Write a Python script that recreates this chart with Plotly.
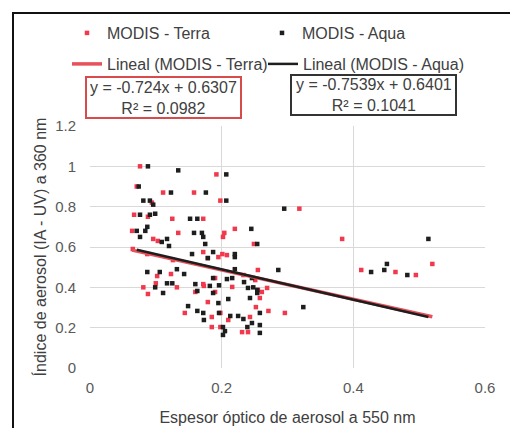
import numpy as np
import plotly.graph_objects as go

# ---- data ----
terra_x = [0.076, 0.192, 0.071, 0.111, 0.158, 0.094, 0.198, 0.318, 0.067, 0.088,
           0.125, 0.172, 0.220, 0.064, 0.134, 0.204, 0.202, 0.096, 0.103, 0.249,
           0.383, 0.065, 0.087, 0.172, 0.195, 0.208, 0.201, 0.126, 0.123, 0.102,
           0.255, 0.190, 0.233, 0.251, 0.081, 0.100, 0.132, 0.088, 0.172, 0.160,
           0.173, 0.190, 0.216, 0.255, 0.269, 0.258, 0.179, 0.252, 0.271, 0.296,
           0.144, 0.185, 0.198, 0.210, 0.243, 0.185, 0.198, 0.231, 0.240, 0.412,
           0.464, 0.495, 0.520, 0.179, 0.261]
terra_y = [1.000, 0.960, 0.900, 0.870, 0.870, 0.820, 0.830, 0.790, 0.760, 0.750,
           0.740, 0.740, 0.690, 0.680, 0.670, 0.670, 0.650, 0.640, 0.630, 0.615,
           0.640, 0.590, 0.565, 0.575, 0.550, 0.560, 0.565, 0.535, 0.466, 0.456,
           0.486, 0.446, 0.461, 0.436, 0.400, 0.420, 0.400, 0.367, 0.416, 0.377,
           0.407, 0.377, 0.402, 0.387, 0.397, 0.347, 0.327, 0.302, 0.283, 0.273,
           0.273, 0.253, 0.273, 0.238, 0.253, 0.203, 0.203, 0.178, 0.178, 0.486,
           0.476, 0.461, 0.516, 0.545, 0.377]

aqua_x = [0.088, 0.134, 0.207, 0.074, 0.123, 0.176, 0.081, 0.091, 0.096, 0.207,
          0.295, 0.076, 0.091, 0.099, 0.152, 0.163, 0.071, 0.087, 0.084, 0.076,
          0.158, 0.170, 0.172, 0.245, 0.109, 0.117, 0.120, 0.175, 0.254, 0.514,
          0.155, 0.187, 0.179, 0.220, 0.220, 0.087, 0.106, 0.132, 0.143, 0.220,
          0.286, 0.187, 0.208, 0.216, 0.234, 0.246, 0.099, 0.117, 0.125, 0.111,
          0.160, 0.182, 0.196, 0.163, 0.187, 0.248, 0.254, 0.240, 0.254, 0.210,
          0.243, 0.195, 0.149, 0.324, 0.163, 0.172, 0.196, 0.213, 0.225, 0.233,
          0.258, 0.173, 0.202, 0.205, 0.202, 0.239, 0.258, 0.258, 0.427, 0.447,
          0.451, 0.482, 0.246]
aqua_y = [1.000, 0.980, 0.960, 0.900, 0.870, 0.870, 0.830, 0.830, 0.810, 0.830,
          0.790, 0.760, 0.760, 0.765, 0.740, 0.740, 0.680, 0.700, 0.680, 0.650,
          0.670, 0.670, 0.650, 0.690, 0.625, 0.640, 0.605, 0.615, 0.615, 0.640,
          0.565, 0.575, 0.545, 0.550, 0.565, 0.476, 0.476, 0.490, 0.466, 0.490,
          0.486, 0.446, 0.441, 0.446, 0.426, 0.446, 0.400, 0.420, 0.420, 0.372,
          0.416, 0.407, 0.410, 0.382, 0.372, 0.400, 0.387, 0.397, 0.372, 0.342,
          0.347, 0.322, 0.307, 0.302, 0.283, 0.273, 0.273, 0.258, 0.258, 0.243,
          0.273, 0.238, 0.203, 0.183, 0.164, 0.203, 0.213, 0.174, 0.476, 0.486,
          0.516, 0.461, 0.223]

terra_slope, terra_intercept, terra_r2 = -0.724, 0.6307, "0.0982"
aqua_slope, aqua_intercept, aqua_r2 = -0.7539, 0.6401, "0.1041"

x_ticks = [0, 0.2, 0.4, 0.6]
y_ticks = [0, 0.2, 0.4, 0.6, 0.8, 1, 1.2]

RED = "#F2384C"
BLACK = "#1E1E1E"
TXT = "#404040"
FONT = "Liberation Sans, Arial, sans-serif"

def trend(xs, m, b):
    xx = np.array([min(xs), max(xs)])
    return xx, m * xx + b

tx, ty = trend(terra_x, terra_slope, terra_intercept)
ax_, ay_ = trend(aqua_x, aqua_slope, aqua_intercept)

fig = go.Figure()
fig.add_trace(go.Scatter(x=terra_x, y=terra_y, mode="markers", name="MODIS - Terra",
                         marker=dict(symbol="square", size=4.5, color=RED), legend="legend"))
fig.add_trace(go.Scatter(x=aqua_x, y=aqua_y, mode="markers", name="MODIS - Aqua",
                         marker=dict(symbol="square", size=4.5, color=BLACK), legend="legend"))
fig.add_trace(go.Scatter(x=tx, y=ty, mode="lines", name="Lineal (MODIS - Terra)",
                         line=dict(color="#E8505A", width=3.5), legend="legend2"))
fig.add_trace(go.Scatter(x=ax_, y=ay_, mode="lines", name="Lineal (MODIS - Aqua)",
                         line=dict(color=BLACK, width=2.5), legend="legend3"))

L, R, T, B = 90, 25, 126, 60
W, H = 510, 428
pw, ph = W - L - R, H - T - B

def px(xp):
    return (xp - L) / pw

def py(yp):
    return (H - B - yp) / ph

shapes = [
    # outer frame (left and top edges visible)
    dict(type="rect", xref="paper", yref="paper", x0=px(13), x1=px(530), y0=py(450), y1=py(13),
         line=dict(color="#111111", width=2), layer="below"),
    dict(type="rect", xref="paper", yref="paper", x0=px(86), x1=px(241), y0=py(118), y1=py(77),
         line=dict(color="#D94A4A", width=2)),
    dict(type="rect", xref="paper", yref="paper", x0=px(291), x1=px(456), y0=py(115), y1=py(75),
         line=dict(color="#333333", width=2)),
]

annotations = [
    dict(xref="paper", yref="paper", x=px(163.5), y=py(97.5), xanchor="center", yanchor="middle",
         showarrow=False, align="center",
         text=f"y = {terra_slope}x + {terra_intercept}<br>R² = {terra_r2}",
         font=dict(family=FONT, size=16, color=TXT)),
    dict(xref="paper", yref="paper", x=px(373.5), y=py(95), xanchor="center", yanchor="middle",
         showarrow=False, align="center",
         text=f"y = {aqua_slope}x + {aqua_intercept}<br>R² = {aqua_r2}",
         font=dict(family=FONT, size=16, color=TXT)),
]

leg_common = dict(orientation="h", xref="container", yref="container",
                  xanchor="left", yanchor="top",
                  font=dict(family=FONT, size=16, color=TXT), bgcolor="rgba(0,0,0,0)")

fig.update_layout(
    width=W, height=H,
    margin=dict(l=L, r=R, t=T, b=B, autoexpand=False),
    paper_bgcolor="white", plot_bgcolor="white",
    font=dict(family=FONT, size=16, color=TXT),
    showlegend=True,
    legend=dict(leg_common, x=67 / W, y=1 - 16 / H, entrywidth=150, entrywidthmode="pixels"),
    legend2=dict(leg_common, x=67 / W, y=1 - 47 / H),
    legend3=dict(leg_common, x=263 / W, y=1 - 47 / H),
    shapes=shapes,
    annotations=annotations,
    xaxis=dict(range=[0, 0.6], tickvals=x_ticks, ticktext=[str(v) for v in x_ticks],
               showgrid=True, gridcolor="#D9D9D9", gridwidth=1, zeroline=False,
               showline=False, ticks="outside", ticklen=6, tickcolor="rgba(0,0,0,0)",
               tickfont=dict(family=FONT, size=15, color="#595959"),
               title=dict(text="Espesor óptico de aerosol a 550 nm", standoff=16,
                          font=dict(family=FONT, size=16, color=TXT))),
    yaxis=dict(range=[0, 1.2], tickvals=y_ticks, ticktext=[str(v) for v in y_ticks],
               showgrid=True, gridcolor="#D9D9D9", gridwidth=1, zeroline=False,
               showline=False, ticks="outside", ticklen=10, tickcolor="rgba(0,0,0,0)",
               tickfont=dict(family=FONT, size=15, color="#595959"),
               title=dict(text="Índice de aerosol (IA - UV) a 360 nm", standoff=4,
                          font=dict(family=FONT, size=16, color=TXT))),
)

fig.write_html("out.html", config={"displayModeBar": False},
               post_script="document.body.style.margin='0px';")
